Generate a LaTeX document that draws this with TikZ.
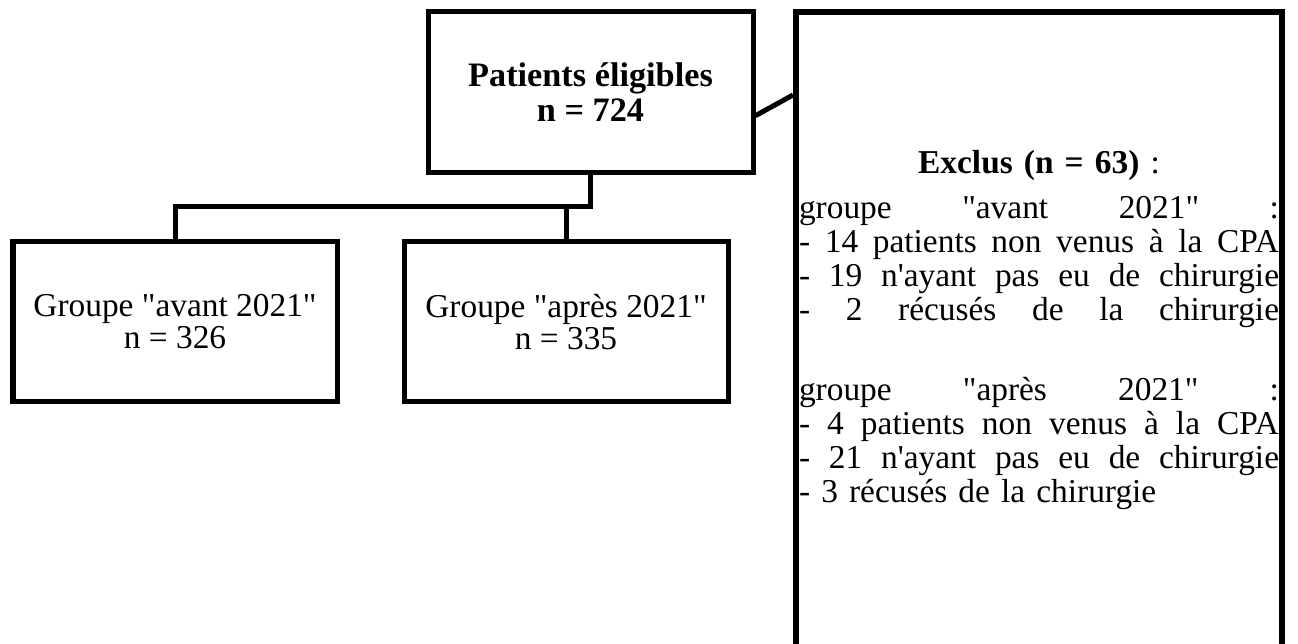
\documentclass[tikz,border=0pt]{standalone}
\usepackage{fontspec}
\setmainfont{Liberation Serif}[Ligatures=TeXOff]
\usepackage{tikz}
\usetikzlibrary{
  positioning,
  calc
}
\newcommand{\justline}[1]{\makebox[9.6cm][s]{\spaceskip=0.25em plus 1fil\relax #1}}
\tikzset{
  box/.style={rectangle,draw,line width=0.1cm,align=center,inner sep=0pt},
  titlebox/.style={box,minimum width=6.5cm,minimum height=3.22cm,font=\fontsize{19.5}{20}\selectfont\bfseries},
  groupbox/.style={box,minimum width=6.48cm,minimum height=3.2cm,font=\fontsize{19}{18.2}\selectfont},
  exclbox/.style={box,line width=0.12cm,text width=9.6cm,inner xsep=0.06cm,minimum height=12.72cm,font=\fontsize{19}{19.35}\selectfont},
  link/.style={line width=0.1cm}
}

\begin{document}
\begin{tikzpicture}[on grid]
    \useasboundingbox (0,0) rectangle (25.96,12.88);
    \clip (0,0) rectangle (25.96,12.88);

    \node[titlebox] (eligibles) at (11.81,11.03) {Patients éligibles\\n = 724};
    \node[groupbox,below left=4.59cm and 8.31cm of eligibles] (avant) {Groupe "avant 2021"\\n = 326};
    \node[groupbox,below left=4.59cm and 0.49cm of eligibles] (apres) {Groupe "après 2021"\\n = 335};
    \node[exclbox,below right=4.75cm and 8.97cm of eligibles] (exclus) {%
      \textbf{Exclus (n = 63)} :\\[0.22cm]
      \justline{groupe "avant 2021" :}\\
      \justline{- 14 patients non venus à la CPA}\\
      \justline{- 19 n'ayant pas eu de chirurgie}\\
      \justline{- 2 récusés de la chirurgie}\\[0.92cm]
      \justline{groupe "après 2021" :}\\
      \justline{- 4 patients non venus à la CPA}\\
      \justline{- 21 n'ayant pas eu de chirurgie}\\
      \makebox[9.6cm][l]{- 3 récusés de la chirurgie}};

    \coordinate[below=2.29cm of eligibles] (split);
    \draw[link] (eligibles) -- (split) -| (avant);
    \draw[link] (apres) -- (apres |- split);
    \draw[link] (eligibles.-8) -- ($(exclus.north west)+(0,-1.72)$);
\end{tikzpicture}
\end{document}
